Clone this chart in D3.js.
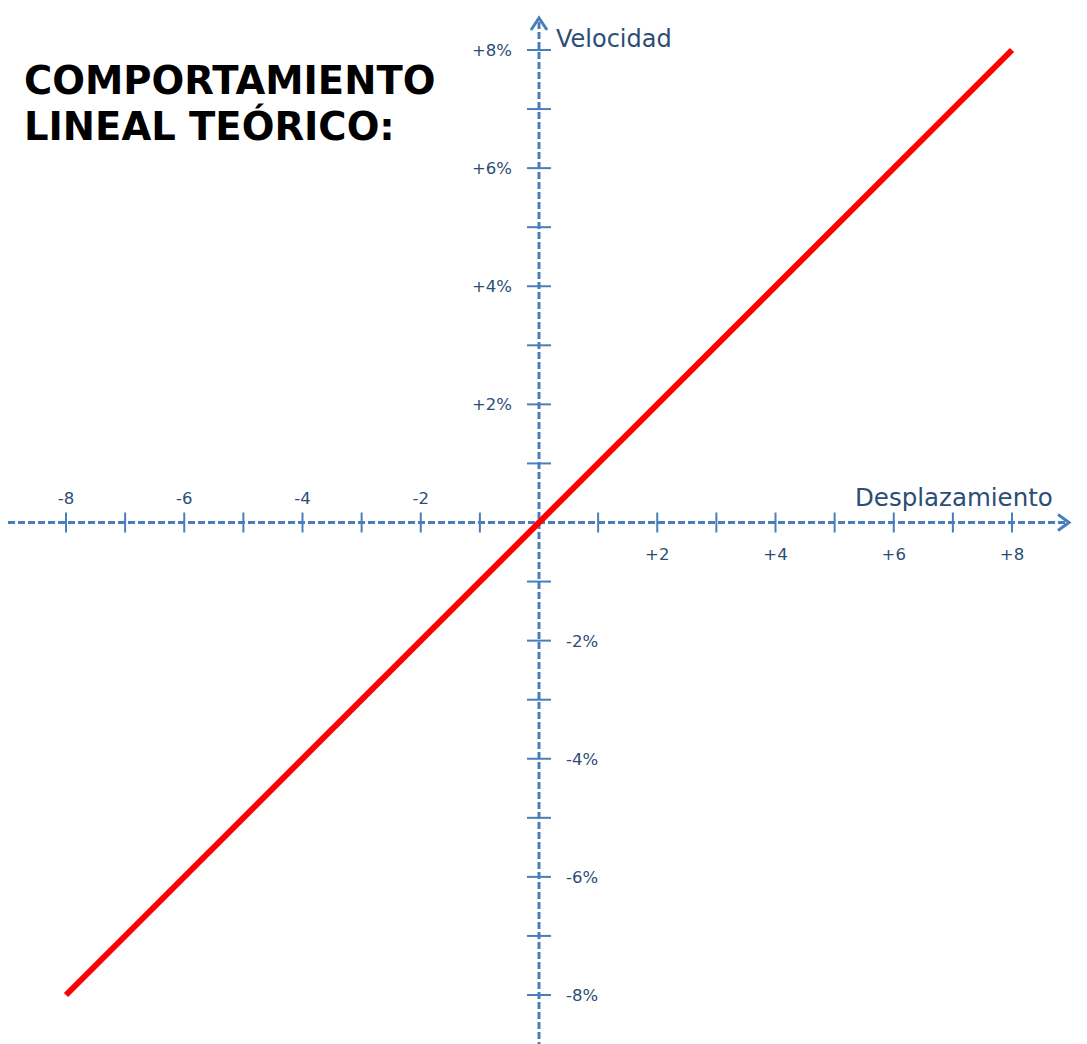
<!DOCTYPE html>
<html>
<head>
<meta charset="utf-8">
<script src="https://cdn.jsdelivr.net/npm/d3@7"></script>
<style>
  body { margin: 0; background: #fff; }
  svg { display: block; }
</style>
</head>
<body>
<div id="chart"></div>
<script>
// data
const titleLines = ["COMPORTAMIENTO", "LINEAL TEÓRICO:"];
const xTicks = d3.range(-8, 9, 1);
const yTicks = d3.range(-8, 9, 1);
const xLabels = [-8, -6, -4, -2, 2, 4, 6, 8];
const yLabels = [8, 6, 4, 2, -2, -4, -6, -8];
const lineX = [-8, 8];
const lineY = [-8, 8];

const width = 1087, height = 1044;
const axisColor = "#4a7ebb";
const textColor = "#2c4d75";
const font = "DejaVu Sans, Verdana, sans-serif";

const svg = d3.select("#chart").append("svg")
    .attr("width", width)
    .attr("height", height);

const x = d3.scaleLinear().domain([-8, 8]).range([66, 1012]);
const y = d3.scaleLinear().domain([-8, 8]).range([995, 50]);

// title
svg.append("text")
    .attr("x", 24)
    .attr("y", 94)
    .attr("font-family", font)
    .attr("font-weight", "bold")
    .attr("font-size", 38.5)
    .attr("fill", "#000")
    .selectAll("tspan")
    .data(titleLines)
    .join("tspan")
    .attr("x", 24)
    .attr("dy", (d, i) => i === 0 ? 0 : 46)
    .text(d => d);

// axes lines
const axes = svg.append("g")
    .attr("stroke", axisColor)
    .attr("fill", "none");

axes.append("line")
    .attr("x1", 8).attr("x2", 1066)
    .attr("y1", y(0)).attr("y2", y(0))
    .attr("stroke-width", 3)
    .attr("stroke-dasharray", "7,3");

axes.append("line")
    .attr("x1", x(0)).attr("x2", x(0))
    .attr("y1", 22).attr("y2", height)
    .attr("stroke-width", 3)
    .attr("stroke-dasharray", "7,3");

// arrow heads
axes.append("path")
    .attr("d", `M1058,${y(0) - 8}L1069,${y(0)}L1058,${y(0) + 8}`)
    .attr("stroke-width", 3);
axes.append("path")
    .attr("d", `M${x(0) - 8},30L${x(0)},18L${x(0) + 8},30`)
    .attr("stroke-width", 3);

// tick marks
axes.selectAll(".xt")
    .data(xTicks.filter(d => d !== 0))
    .join("line")
    .attr("class", "xt")
    .attr("x1", d => x(d)).attr("x2", d => x(d))
    .attr("y1", y(0) - 10).attr("y2", y(0) + 10)
    .attr("stroke-width", 2);

axes.selectAll(".yt")
    .data(yTicks.filter(d => d !== 0))
    .join("line")
    .attr("class", "yt")
    .attr("y1", d => y(d)).attr("y2", d => y(d))
    .attr("x1", x(0) - 12).attr("x2", x(0) + 12)
    .attr("stroke-width", 2);

// tick labels
const lab = svg.append("g")
    .attr("font-family", font)
    .attr("font-size", 16.5)
    .attr("fill", textColor);

lab.selectAll(".xl")
    .data(xLabels)
    .join("text")
    .attr("text-anchor", "middle")
    .attr("x", d => x(d))
    .attr("y", d => d < 0 ? y(0) - 19 : y(0) + 37)
    .text(d => (d > 0 ? "+" : "") + d);

lab.selectAll(".yl")
    .data(yLabels)
    .join("text")
    .attr("text-anchor", d => d > 0 ? "end" : "start")
    .attr("x", d => d > 0 ? x(0) - 27 : x(0) + 27)
    .attr("y", d => y(d) + 6)
    .text(d => (d > 0 ? "+" : "") + d + "%");

// axis titles
svg.append("text")
    .attr("x", 556).attr("y", 47)
    .attr("font-family", font)
    .attr("font-size", 24)
    .attr("fill", textColor)
    .text("Velocidad");

svg.append("text")
    .attr("x", 855).attr("y", 506)
    .attr("font-family", font)
    .attr("font-size", 24.5)
    .attr("fill", textColor)
    .text("Desplazamiento");

// theoretical line
const pts = lineX.map((d, i) => [d, lineY[i]]);
svg.append("path")
    .datum(pts)
    .attr("fill", "none")
    .attr("stroke", "#ff0000")
    .attr("stroke-width", 6)
    .attr("d", d3.line().x(d => x(d[0])).y(d => y(d[1])));
</script>
</body>
</html>
